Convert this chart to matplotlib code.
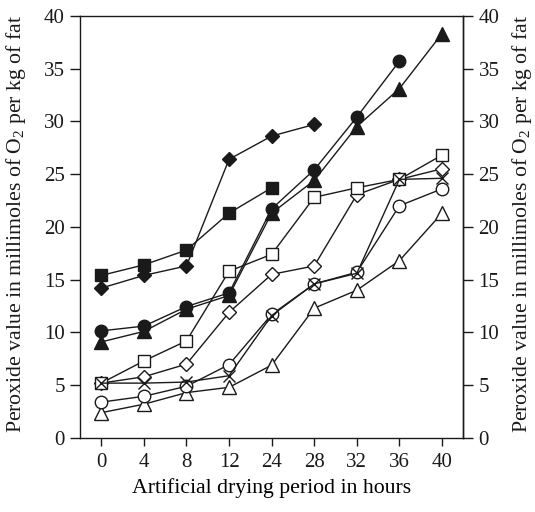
import matplotlib.pyplot as plt
import numpy as np

plt.rcParams['font.family'] = ['Liberation Serif', 'DejaVu Serif']
plt.rcParams['mathtext.fontset'] = 'custom'
plt.rcParams['mathtext.rm'] = 'Liberation Serif'

hours = ['0', '4', '8', '12', '24', '28', '32', '36', '40']

# filled markers
filled_diamond = [14.2, 15.4, 16.3, 26.4, 28.6, 29.7]
filled_square = [15.4, 16.4, 17.8, 21.3, 23.7]
filled_circle = [10.15, 10.6, 12.45, 13.75, 21.7, 25.4, 30.4, 35.7]
filled_triangle = [9.1, 10.1, 12.2, 13.5, 21.3, 24.4, 29.5, 33.1, 38.3]

# open markers
open_square = [5.2, 7.3, 9.2, 15.8, 17.4, 22.8, 23.7, 24.5, 26.8]
open_diamond = [5.2, 5.8, 7.0, 11.9, 15.5, 16.3, 23.05, 24.5, 25.5]
crossed = [5.2, 5.2, 5.3, 5.9, 11.6, 14.6, 15.6, 24.5, 24.6]
open_circle = [3.4, 3.95, 4.9, 6.95, 11.7, 14.6, 15.7, 22.0, 23.6]
open_triangle = [2.4, 3.2, 4.3, 4.8, 6.9, 12.3, 14.0, 16.8, 21.3]

fig = plt.figure(figsize=(5.35, 5.12), dpi=100)
ax = fig.add_axes([0.1495, 0.1445, 0.7165, 0.8248])

k = '#1a1a1a'
lw = 1.0
fs_tick = 15
fs_lab = 15.7

def draw(vals, marker, filled, ms=8, z=3):
    x = np.arange(len(vals))
    ax.plot(x, vals, color=k, lw=lw, marker=marker, ms=ms,
            mfc=k if filled else 'white', mec=k, mew=1.0, zorder=z)

draw(open_triangle, '^', False, ms=9.5)
draw(open_circle, 'o', False, ms=9)
draw(open_diamond, 'D', False, ms=7.3)
draw(open_square, 's', False, ms=9.3)
x = np.arange(len(crossed))
ax.plot(x, crossed, color=k, lw=lw, marker='x', ms=8.5, mew=1.0, zorder=4)
draw(filled_triangle, '^', True, ms=9.5)
draw(filled_circle, 'o', True, ms=9)
draw(filled_square, 's', True, ms=9.3)
draw(filled_diamond, 'D', True, ms=7.3)

ax.set_xlim(-0.5, 8.5)
ax.set_ylim(0, 40)
ax.set_xticks(range(len(hours)))
ax.set_xticklabels(hours)
ax.set_yticks(range(0, 41, 5))
ax.tick_params(axis='y', direction='out', length=7, width=1, labelsize=fs_tick, colors=k, pad=4)
ax.tick_params(axis='x', direction='out', length=6, width=1, labelsize=fs_tick, colors=k, pad=5)
for s in ax.spines.values():
    s.set_linewidth(1.0)
    s.set_color(k)

sec = ax.secondary_yaxis('right')
sec.set_yticks(range(0, 41, 5))
sec.tick_params(direction='out', length=7, width=1, labelsize=fs_tick, colors=k, pad=4)
sec.spines['right'].set_linewidth(1.0)
sec.spines['right'].set_color(k)

ylab = 'Peroxide value in millimoles of O$_2$ per kg of fat'
fig.text(16 / 535, 1 - 224 / 512, ylab, rotation=90, ha='center', va='center',
         fontsize=fs_lab, color=k)
fig.text(522 / 535, 1 - 224 / 512, ylab, rotation=90, ha='center', va='center',
         fontsize=fs_lab, color=k)
ax.set_xlabel('Artificial drying period in hours', fontsize=fs_lab, labelpad=4)

fig.savefig('out.png', dpi=100)
